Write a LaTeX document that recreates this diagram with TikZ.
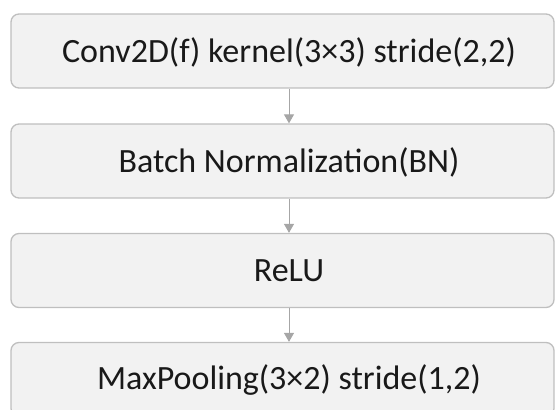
\documentclass[tikz,border=0pt]{standalone}
\usepackage{fontspec}
\setmainfont{Carlito}
\usetikzlibrary{arrows.meta}
\definecolor{boxfill}{HTML}{F2F2F2}
\definecolor{boxline}{HTML}{BFBFBF}
\definecolor{arrowgray}{HTML}{A6A6A6}
\tikzset{
  layerbox/.style={draw=boxline, line width=1.3pt, fill=boxfill, rounded corners=8pt,
    minimum width=543pt, minimum height=74pt, inner sep=0pt},
  layertext/.style={font=\fontsize{34}{40}\selectfont, text=black!90, inner sep=0pt},
  flow/.style={draw=arrowgray, line width=1pt, -{Triangle[length=9pt,width=10pt]}}
}
\begin{document}
\begin{tikzpicture}[x=1pt,y=-1pt]
  \useasboundingbox (0,0) rectangle (555,410);
  \begin{scope}
    \clip (0,0) rectangle (555,410);
    % layer boxes
    \node[layerbox] (b1) at (282.5,51) {};
    \node[layerbox] (b2) at (282.5,161) {};
    \node[layerbox] (b3) at (282.5,270.5) {};
    \node[layerbox] (b4) at (282.5,379.5) {};
    % layer names
    \node[layertext] (t1) at (289,52) {Conv2D(f) kernel(3×3) stride(2,2)};
    \node[layertext] (t2) at (289,162) {Batch Normalization(BN)};
    \node[layertext] (t3) at (289,271) {ReLU};
    \node[layertext] (t4) at (289,380) {MaxPooling(3×2) stride(1,2)};
    % connectors
    \draw[flow] (b1.south -| t1) -- (b2.north -| t1);
    \draw[flow] (b2.south -| t2) -- (b3.north -| t2);
    \draw[flow] (b3.south -| t3) -- (b4.north -| t3);
  \end{scope}
\end{tikzpicture}
\end{document}
